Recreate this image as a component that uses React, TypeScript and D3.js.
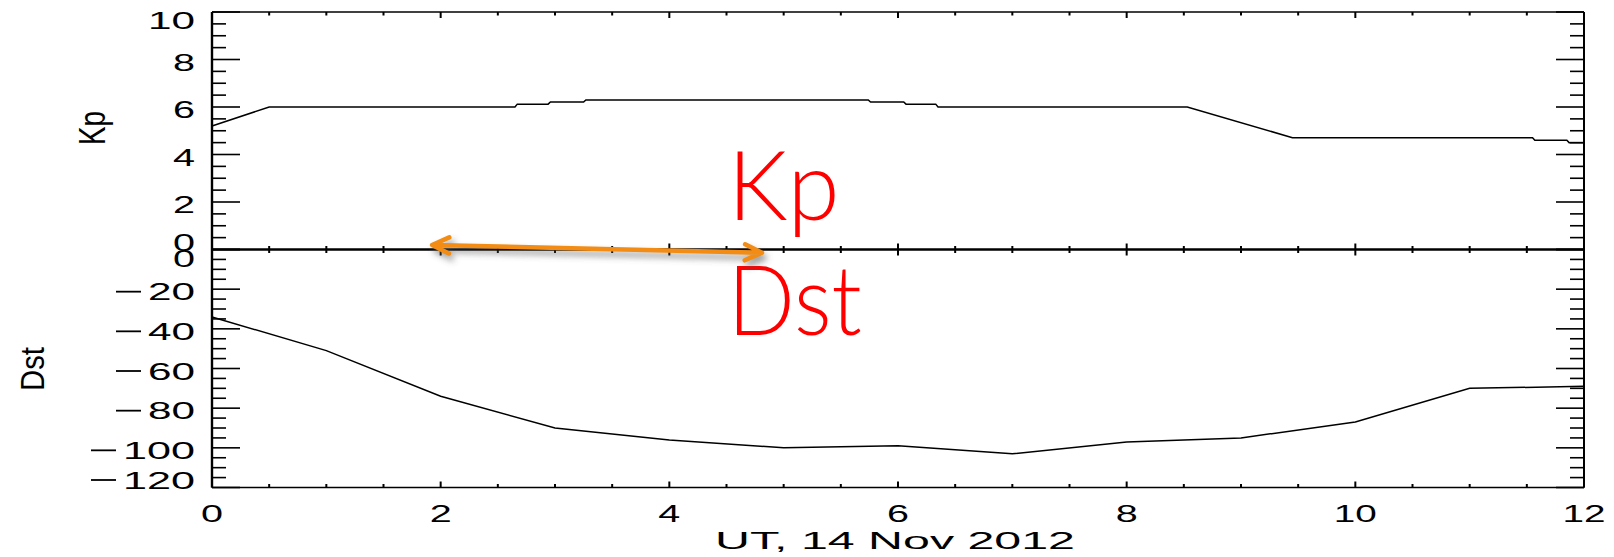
import React from 'react';
import * as d3 from 'd3';

// ---- data ----
const dstHours = [0, 1, 2, 3, 4, 5, 6, 7, 8, 9, 10, 11, 12];
const dstValues = [-34, -51, -74, -90, -96, -100, -99, -103, -97, -95, -87, -70, -69];

const kpHours = [0, 0.5, 2.65, 2.67, 2.94, 2.96, 3.25, 3.27, 5.74, 5.76, 6.05, 6.07, 6.33, 6.35, 8.53, 9.45, 11.55, 11.57, 11.85, 11.87, 12];
const kpValues = [5.2, 6.0, 6.0, 6.12, 6.12, 6.21, 6.21, 6.3, 6.3, 6.21, 6.21, 6.12, 6.12, 6.0, 6.0, 4.71, 4.71, 4.6, 4.6, 4.5, 4.5];

const xTickValues = [0, 2, 4, 6, 8, 10, 12];
const kpTickValues = [0, 2, 4, 6, 8, 10];
const dstTickValues = [0, -20, -40, -60, -80, -100, -120];

const xTitle = 'UT, 14 Nov 2012';
const kpTitle = 'Kp';
const dstTitle = 'Dst';
const annotationKp = 'Kp';
const annotationDst = 'Dst';
// arrow annotation in data units (hours, offset px from panel divider)
const arrowFrom = [1.925, -4.5];
const arrowTo = [4.81, 3.2];
const annotationHour = 4.51;

// ---- layout ----
const W = 1614, H = 557;
const left = 212, right = 1584;
const kpTop = 12, mid = 249.5, dstBottom = 487.5;

const x = d3.scaleLinear().domain([0, 12]).range([left, right]);
const yKp = d3.scaleLinear().domain([0, 10]).range([mid, kpTop]);
const yDst = d3.scaleLinear().domain([-120, 0]).range([dstBottom, mid]);

const labelFont = '"Liberation Sans", Arial, sans-serif';
const digitsWidth = (s: string) => 25 * s.length - 3;

function YLabel({ v, y }: { v: number; y: number }) {
  const digits = String(Math.abs(v));
  const w = digitsWidth(digits);
  return (
    <g>
      <text x={195} y={y} textAnchor="end" fontFamily={labelFont} fontSize={23.5}
        textLength={w} lengthAdjust="spacingAndGlyphs" fill="#000">{digits}</text>
      {v < 0 && (
        <line x1={195 - w - 32} x2={195 - w - 7} y1={y - 8.5} y2={y - 8.5} stroke="#000" strokeWidth={1.8} />
      )}
    </g>
  );
}

export default function App() {
  const kpLine = d3.line<number>().x((_, i) => x(kpHours[i])).y((_, i) => yKp(kpValues[i]))(kpValues as any) || '';
  const dstLine = d3.line<number>().x((_, i) => x(dstHours[i])).y((_, i) => yDst(dstValues[i]))(dstValues as any) || '';

  const xMinor = d3.range(0, 12.001, 0.5);
  const kpMinor = d3.range(0, 10.001, 0.5);
  const dstMinor = d3.range(-120, 0.001, 5);

  const yTickEls: React.ReactNode[] = [];
  kpMinor.forEach((v, i) => {
    const major = Math.abs(v % 2) < 1e-6;
    const len = major ? 28 : 14;
    const yy = yKp(v);
    yTickEls.push(<line key={'kl' + i} x1={left} x2={left + len} y1={yy} y2={yy} stroke="#000" strokeWidth={1.6} />);
    yTickEls.push(<line key={'kr' + i} x1={right} x2={right - len} y1={yy} y2={yy} stroke="#000" strokeWidth={1.6} />);
  });
  dstMinor.forEach((v, i) => {
    const major = Math.abs(v % 20) < 1e-6;
    const len = major ? 28 : 14;
    const yy = yDst(v);
    yTickEls.push(<line key={'dl' + i} x1={left} x2={left + len} y1={yy} y2={yy} stroke="#000" strokeWidth={1.6} />);
    yTickEls.push(<line key={'dr' + i} x1={right} x2={right - len} y1={yy} y2={yy} stroke="#000" strokeWidth={1.6} />);
  });

  const xTickEls: React.ReactNode[] = [];
  xMinor.forEach((h, i) => {
    const major = Math.abs(h % 2) < 1e-6;
    const xx = x(h);
    const l = major ? 6 : 3.5;
    xTickEls.push(<line key={'xt' + i} x1={xx} x2={xx} y1={kpTop} y2={kpTop + l} stroke="#000" strokeWidth={2} />);
    xTickEls.push(<line key={'xm' + i} x1={xx} x2={xx} y1={mid - l} y2={mid + l} stroke="#000" strokeWidth={2} />);
    xTickEls.push(<line key={'xb' + i} x1={xx} x2={xx} y1={dstBottom - l} y2={dstBottom} stroke="#000" strokeWidth={2} />);
  });

  const clampKp = (v: number) => Math.min(Math.max(yKp(v) + 2.5, kpTop + 8.5), mid - 7.5);
  const clampDst = (v: number) => Math.min(Math.max(yDst(v) + 2.5, mid + 8.5), dstBottom - 7.5);

  // arrow geometry
  const ax1 = x(arrowFrom[0]), ay1 = mid + arrowFrom[1];
  const ax2 = x(arrowTo[0]), ay2 = mid + arrowTo[1];
  const ang = Math.atan2(ay2 - ay1, ax2 - ax1);
  const back = 17, side = 8;
  const head = (tx: number, ty: number, dir: number) => {
    const bx = tx - Math.cos(ang) * back * dir, by = ty - Math.sin(ang) * back * dir;
    const px = -Math.sin(ang) * side, py = Math.cos(ang) * side;
    return `M${bx + px},${by + py}L${tx},${ty}L${bx - px},${by - py}`;
  };
  const arrowPath = `M${ax1},${ay1}L${ax2},${ay2}` + head(ax2, ay2, 1) + head(ax1, ay1, -1);

  return (
    <svg width={W} height={H} style={{ position: 'absolute', left: 0, top: 0, background: '#fff' }}>
      <defs>
        <filter id="sh" x="-10%" y="-200%" width="120%" height="500%">
          <feGaussianBlur stdDeviation="3" />
        </filter>
      </defs>
      <rect x={0} y={0} width={W} height={H} fill="#fff" />

      {/* frames */}
      <line x1={left} x2={right} y1={kpTop} y2={kpTop} stroke="#000" strokeWidth={1.5} />
      <line x1={left} x2={right} y1={mid} y2={mid} stroke="#000" strokeWidth={2.4} />
      <line x1={left} x2={right} y1={dstBottom} y2={dstBottom} stroke="#000" strokeWidth={1.6} />
      <line x1={left} x2={left} y1={kpTop} y2={dstBottom} stroke="#000" strokeWidth={2.4} />
      <line x1={right} x2={right} y1={kpTop} y2={dstBottom} stroke="#000" strokeWidth={2} />
      {yTickEls}
      {xTickEls}

      {/* data */}
      <path d={kpLine} fill="none" stroke="#000" strokeWidth={1.5} />
      <path d={dstLine} fill="none" stroke="#000" strokeWidth={1.5} />

      {/* y tick labels */}
      {kpTickValues.map((v) => <YLabel key={'kpl' + v} v={v} y={clampKp(v) + 8.5} />)}
      {dstTickValues.map((v) => <YLabel key={'dsl' + v} v={v} y={clampDst(v) + 8.5} />)}

      {/* x tick labels */}
      {xTickValues.map((h) => {
        const s = String(h);
        return (
          <text key={'xl' + h} x={x(h)} y={522} textAnchor="middle" fontFamily={labelFont} fontSize={23.5}
            textLength={s.length === 1 ? 22 : 43} lengthAdjust="spacingAndGlyphs" fill="#000">{s}</text>
        );
      })}

      {/* axis titles */}
      <text x={895} y={549} textAnchor="middle" fontFamily={labelFont} fontSize={23.5}
        textLength={360} lengthAdjust="spacingAndGlyphs" fill="#000">{xTitle}</text>
      <text transform="translate(105,128) rotate(-90)" textAnchor="middle" fontFamily='"Liberation Sans", sans-serif'
        fontSize={36} textLength={34} lengthAdjust="spacingAndGlyphs" fill="#000">{kpTitle}</text>
      <text transform="translate(44,369) rotate(-90)" textAnchor="middle" fontFamily='"Liberation Sans", sans-serif'
        fontSize={33} textLength={44} lengthAdjust="spacingAndGlyphs" fill="#000">{dstTitle}</text>

      {/* annotations */}
      <text x={x(annotationHour)} y={220} fontFamily='Lato, "Noto Sans", sans-serif' fontSize={97} fontWeight={300}
        textLength={112} lengthAdjust="spacingAndGlyphs" fill="#ff0000">{annotationKp}</text>
      <text x={x(annotationHour)} y={335} fontFamily='Lato, "Noto Sans", sans-serif' fontSize={97} fontWeight={300}
        textLength={134} lengthAdjust="spacingAndGlyphs" fill="#ff0000">{annotationDst}</text>

      <path d={arrowPath} transform="translate(3,5)" fill="none" stroke="#555" strokeOpacity={0.55} strokeWidth={5}
        strokeLinecap="round" strokeLinejoin="round" filter="url(#sh)" />
      <path d={arrowPath} fill="none" stroke="#f28c14" strokeWidth={4.5} strokeLinecap="round" strokeLinejoin="round" />
    </svg>
  );
}
